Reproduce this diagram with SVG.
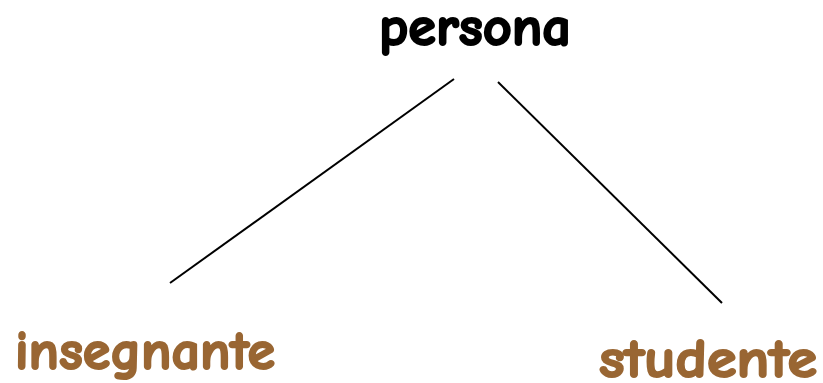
<svg xmlns="http://www.w3.org/2000/svg" width="823" height="383" viewBox="0 0 823 383">
<style>
.t{font-family:"Comic Neue","DejaVu Sans","Liberation Sans",sans-serif;font-weight:bold;font-size:54px;stroke-width:2;stroke-linejoin:round}
.root{fill:#000;stroke:#000}
.leaf{fill:#996633;stroke:#996633}
.c{stroke:#000;stroke-width:2;fill:none}
</style>
<rect width="823" height="383" fill="#fff"/>
<g id="connectors">
<line class="c" x1="454" y1="79" x2="170" y2="283"/>
<line class="c" x1="498" y1="82" x2="722" y2="303"/>
</g>
<g id="persona"><text class="t root" x="379" y="45" textLength="192" lengthAdjust="spacingAndGlyphs">persona</text></g>
<g id="insegnante"><text class="t leaf" x="15" y="369" textLength="260" lengthAdjust="spacingAndGlyphs">insegnante</text></g>
<g id="studente"><text class="t leaf" x="599" y="377" textLength="218" lengthAdjust="spacingAndGlyphs">studente</text></g>
</svg>
